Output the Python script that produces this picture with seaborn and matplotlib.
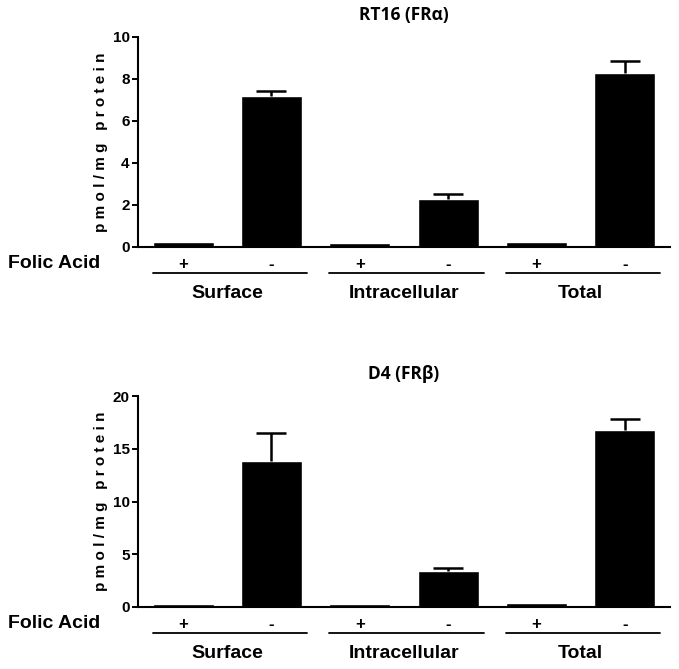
import numpy as np
import pandas as pd
import matplotlib
matplotlib.use("Agg")
import matplotlib.pyplot as plt
import matplotlib.transforms as mtransforms
import seaborn as sns

# Data
compartments = ["Surface", "Intracellular", "Total"]
folic_acid = ["+", "-"]

rt16_mean = [0.22, 7.2, 0.18, 2.3, 0.22, 8.3]
rt16_err = [0.0, 0.25, 0.0, 0.2, 0.0, 0.55]

d4_mean = [0.25, 13.8, 0.3, 3.4, 0.35, 16.8]
d4_err = [0.0, 2.7, 0.0, 0.25, 0.0, 1.0]

titles = ["RT16 (FR\u03b1)", "D4 (FR\u03b2)"]
y_max = [10, 20]
y_ticks = [[0, 2, 4, 6, 8, 10], [0, 5, 10, 15, 20]]

sns.set_theme(style="ticks", rc={"text.color": "black", "axes.labelcolor": "black",
                                 "xtick.color": "black", "ytick.color": "black",
                                 "axes.edgecolor": "black"})
plt.rcParams["font.family"] = ["Liberation Sans", "DejaVu Sans"]
plt.rcParams["font.weight"] = "bold"

fig = plt.figure(figsize=(6.79, 6.69), dpi=100)
ax_top = fig.add_axes([0.2032, 0.6308, 0.7835, 0.3139])
ax_bot = fig.add_axes([0.2032, 0.0927, 0.7835, 0.3153])

for ax, title, means, errs, ymax, yt in zip(
        [ax_top, ax_bot], titles, [rt16_mean, d4_mean], [rt16_err, d4_err], y_max, y_ticks):
    df = pd.DataFrame({
        "bar": [f"{c} {f}" for c in compartments for f in folic_acid],
        "value": means,
    })
    sns.barplot(data=df, x="bar", y="value", color="black", width=0.69,
                errorbar=None, ax=ax, saturation=1)

    # upper-only error bars with a cap on top
    x = np.arange(len(means))
    tops = np.add(means, errs)
    has_err = np.array(errs) > 0
    ax.vlines(x[has_err], np.array(means)[has_err], tops[has_err],
              color="black", lw=1.8)
    ax.hlines(tops[has_err], x[has_err] - 0.17, x[has_err] + 0.17,
              color="black", lw=1.8)

    ax.set_xlim(-0.51, 5.51)
    ax.set_ylim(0, ymax)
    ax.set_yticks(yt)
    ax.set_yticklabels([str(t) for t in yt], fontsize=11, fontweight="bold")
    ax.set_xticks(x)
    ax.set_xticklabels(folic_acid * 3, fontsize=12, fontweight="bold")
    ax.tick_params(axis="x", length=0, pad=7)
    ax.tick_params(axis="y", length=4, width=1.4, direction="out", pad=2)
    ax.set_xlabel("")
    ax.set_ylabel("p m o l / m g   p r o t e i n", fontsize=11, fontweight="bold",
                  labelpad=3)
    sns.despine(ax=ax)
    ax.spines["left"].set_linewidth(1.5)
    ax.spines["bottom"].set_linewidth(1.5)

    ax.set_title(title, family=["Open Sans", "DejaVu Sans"], fontsize=12.5,
                 fontweight="bold", pad=12)

    # group lines and labels under the +/- labels
    trans = mtransforms.blended_transform_factory(ax.transData, ax.transAxes)
    for i, comp in enumerate(compartments):
        x0 = 2 * i - 0.345
        x1 = 2 * i + 1 + 0.4
        ax.plot([x0, x1], [-0.125, -0.125], color="black", lw=1.3,
                transform=trans, clip_on=False)
        ax.text(2 * i + 0.5, -0.22, comp, transform=trans, ha="center",
                va="center", fontsize=14, fontweight="bold")

# "Folic Acid" row labels
for yfrac in [1 - 264 / 669, 1 - 624 / 669]:
    fig.text(8 / 679, yfrac, "Folic Acid", ha="left", va="center",
             fontsize=14, fontweight="bold")

fig.savefig("out.png", dpi=100)
